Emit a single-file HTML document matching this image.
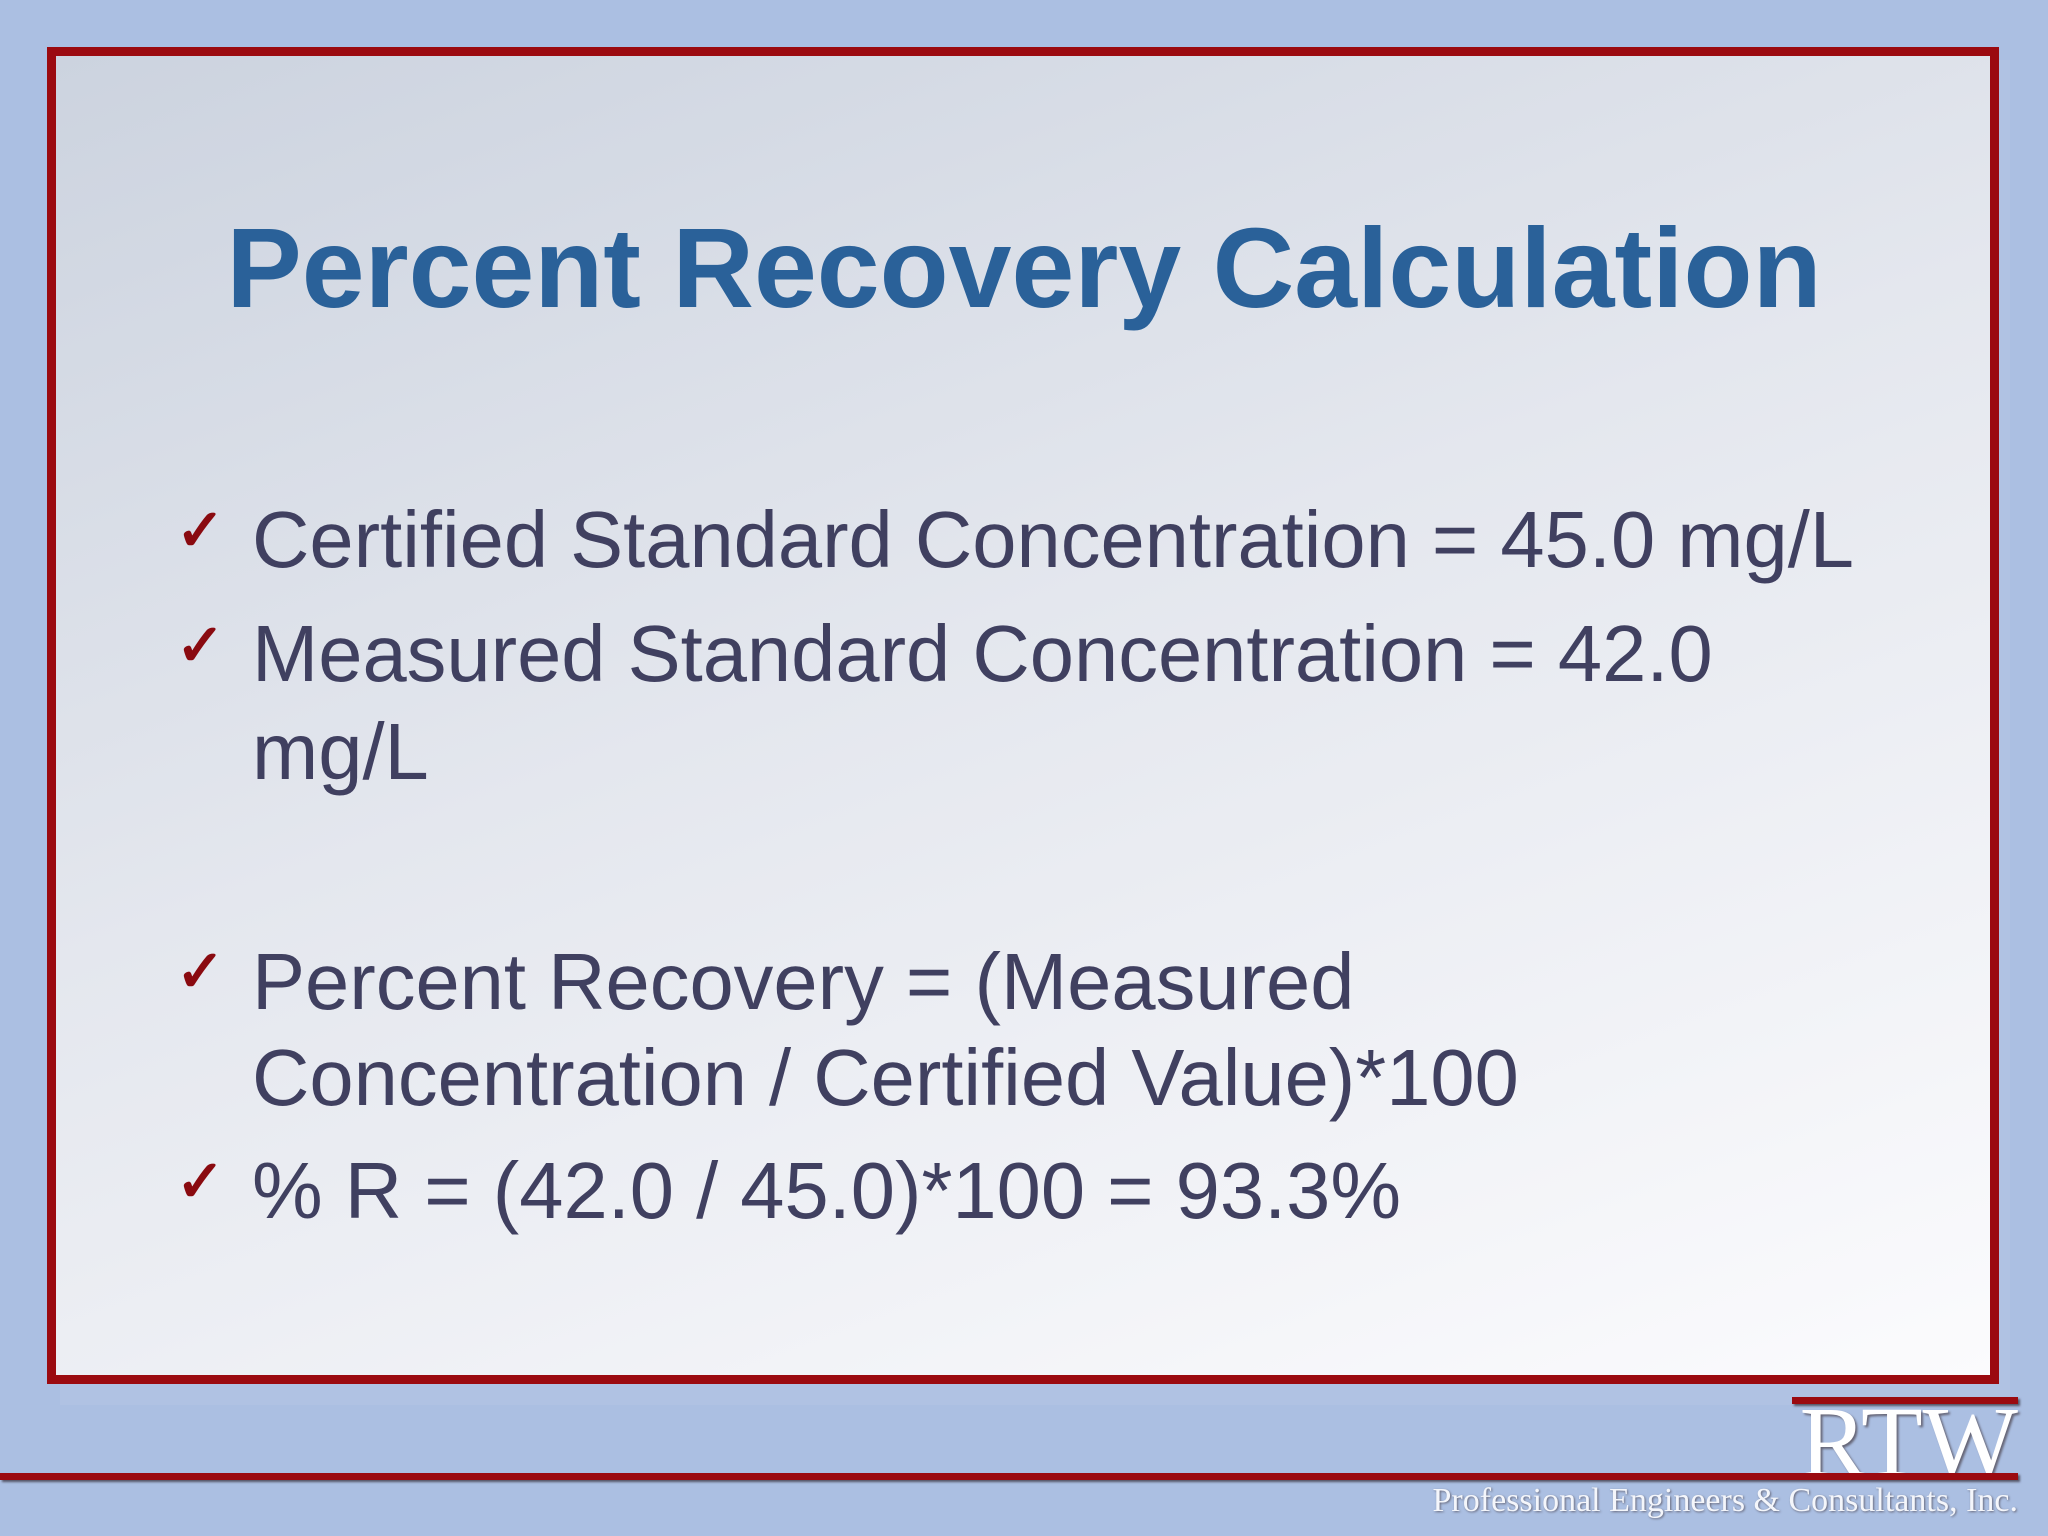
<!DOCTYPE html>
<html><head><meta charset="utf-8"><style>
body{margin:0;width:2048px;height:1536px;overflow:hidden;background:#abbfe2;position:relative;font-family:"Liberation Sans",sans-serif}
.abs{position:absolute}
#frame{left:47px;top:47px;width:1952px;height:1337px;box-sizing:border-box;border:9px solid #9b0a10;background:linear-gradient(160deg,#ccd3df 0%,#e4e7ee 45%,#fbfbfd 100%)}
.line{position:absolute;left:252px;font-size:79.5px;color:#404060;white-space:nowrap;line-height:1}
.chk{position:absolute;left:176px;font-size:58px;font-weight:bold;color:#8a0a10;line-height:1}
</style></head><body>
<div class="abs" style="left:60px;top:60px;width:1950px;height:1345px;background:#b0c2e3;"></div>
<div id="frame" class="abs"></div>
<div class="abs" style="left:0;width:2048px;top:212px;text-align:center;font-size:113px;font-weight:bold;color:#2a6199;line-height:1">Percent Recovery Calculation</div>
<div class="chk" style="top:502px">✓</div>
<div class="line" style="top:500px">Certified Standard Concentration = 45.0 mg/L</div>
<div class="chk" style="top:617px">✓</div>
<div class="line" style="top:614px">Measured Standard Concentration = 42.0</div>
<div class="line" style="top:712px">mg/L</div>
<div class="chk" style="top:943px">✓</div>
<div class="line" style="top:942px">Percent Recovery = (Measured</div>
<div class="line" style="top:1038px">Concentration / Certified Value)*100</div>
<div class="chk" style="top:1153px">✓</div>
<div class="line" style="top:1151px">% R = (42.0 / 45.0)*100 = 93.3%</div>
<div class="abs" style="left:1792px;top:1397px;width:226px;height:7px;background:#9b0a10;box-shadow:2px 2px 2px #556"></div>
<div class="abs" style="left:1700px;width:318px;top:1392px;text-align:right;font-family:'Liberation Serif',serif;font-size:101px;color:#fff;line-height:1;text-shadow:2px 2px 2px #667">RTW</div>
<div class="abs" style="left:0;top:1473px;width:2018px;height:7px;background:#9b0a10;box-shadow:2px 2px 2px #556"></div>
<div class="abs" style="left:1300px;width:718px;top:1484px;text-align:right;font-family:'Liberation Serif',serif;font-size:34px;color:#f4f6fb;line-height:1;text-shadow:1px 1px 2px #667">Professional Engineers &amp; Consultants, Inc.</div>
</body></html>
